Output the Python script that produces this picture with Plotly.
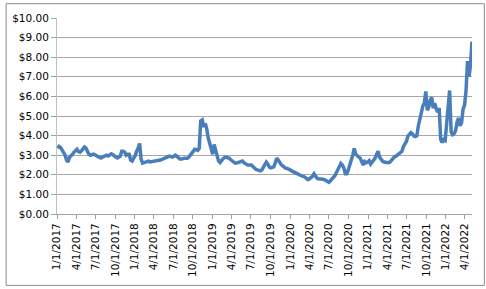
import pandas as pd
import plotly.graph_objects as go

# Weekly price readings (USD), Jan 2017 – May 2022
start_date = "2017-01-04"
prices = [
    3.35, 3.45, 3.40, 3.28, 3.15, 3.00, 2.75, 2.65, 2.90, 2.95,
    3.05, 3.15, 3.25, 3.30, 3.18, 3.15, 3.22, 3.30, 3.42, 3.36,
    3.18, 3.05, 3.00, 3.02, 3.05, 3.02, 2.96, 2.93, 2.90, 2.86,
    2.90, 2.95, 2.98, 3.00, 2.96, 3.02, 3.07, 3.02, 2.97, 2.90,
    2.86, 2.90, 2.95, 3.20, 3.20, 3.15, 3.00, 3.05, 3.05, 2.75,
    2.70, 2.85, 2.97, 3.20, 3.35, 3.60, 2.80, 2.60, 2.62, 2.65,
    2.68, 2.70, 2.66, 2.68, 2.70, 2.70, 2.70, 2.72, 2.74, 2.75,
    2.78, 2.80, 2.85, 2.90, 2.92, 2.95, 2.93, 2.90, 2.95, 3.00,
    2.95, 2.88, 2.80, 2.80, 2.80, 2.84, 2.85, 2.85, 2.90, 3.00,
    3.10, 3.18, 3.30, 3.28, 3.25, 3.35, 4.75, 4.80, 4.45, 4.62,
    4.35, 3.90, 3.55, 3.20, 3.05, 3.55, 3.25, 2.90, 2.70, 2.62,
    2.75, 2.82, 2.88, 2.90, 2.87, 2.85, 2.78, 2.70, 2.65, 2.60,
    2.60, 2.62, 2.63, 2.67, 2.70, 2.62, 2.55, 2.52, 2.50, 2.50,
    2.50, 2.42, 2.33, 2.28, 2.25, 2.22, 2.20, 2.25, 2.40, 2.55,
    2.65, 2.55, 2.40, 2.35, 2.37, 2.40, 2.60, 2.85, 2.75, 2.62,
    2.52, 2.45, 2.38, 2.33, 2.32, 2.30, 2.25, 2.20, 2.17, 2.14,
    2.10, 2.05, 2.00, 1.97, 1.95, 1.92, 1.88, 1.80, 1.75, 1.80,
    1.85, 1.92, 2.05, 1.90, 1.82, 1.80, 1.80, 1.80, 1.77, 1.75,
    1.70, 1.65, 1.62, 1.70, 1.78, 1.85, 1.95, 2.10, 2.25, 2.45,
    2.58, 2.50, 2.35, 2.05, 2.05, 2.25, 2.45, 2.75, 3.00, 3.35,
    3.05, 2.95, 2.90, 2.85, 2.70, 2.50, 2.68, 2.62, 2.65, 2.72,
    2.55, 2.65, 2.75, 2.85, 3.05, 3.20, 2.90, 2.78, 2.70, 2.65,
    2.63, 2.60, 2.62, 2.65, 2.75, 2.85, 2.92, 2.95, 3.00, 3.08,
    3.15, 3.20, 3.45, 3.62, 3.70, 3.98, 4.10, 4.15, 4.10, 3.98,
    3.95, 4.00, 4.50, 4.90, 5.25, 5.50, 5.65, 6.25, 5.30, 5.45,
    5.80, 5.95, 5.40, 5.65, 5.35, 5.20, 5.40, 3.80, 3.65, 3.80,
    3.75, 4.50, 5.50, 6.30, 4.20, 4.05, 4.10, 4.25, 4.70, 4.90,
    4.50, 4.65, 5.35, 5.55, 6.30, 7.80, 7.00, 7.60, 8.80,
]
dates = pd.date_range(start_date, periods=len(prices), freq="7D")

tick_dates = pd.date_range("2017-01-01", "2022-04-01", freq="QS")
tick_labels = [f"{d.month}/{d.day}/{d.year}" for d in tick_dates]

y_ticks = list(range(0, 11))
y_labels = [f"${v:.2f}" for v in y_ticks]

fig = go.Figure()
fig.add_trace(go.Scatter(
    x=dates, y=prices, mode="lines",
    line=dict(color="#4A7EBB", width=3.5),
    hoverinfo="skip",
))

W, H = 486, 289
L, R, T, B = 52, 14, 15, 75
pw, ph = W - L - R, H - T - B

fig.update_layout(
    width=W, height=H,
    margin=dict(l=L, r=R, t=T, b=B, pad=0),
    paper_bgcolor="white", plot_bgcolor="white",
    showlegend=False,
    font=dict(family="DejaVu Sans", size=10.5, color="#000000"),
    xaxis=dict(
        type="date",
        range=["2017-01-01", dates[-1]],
        tickvals=tick_dates, ticktext=tick_labels,
        tickangle=-90,
        showgrid=False, zeroline=False,
        showline=True, linecolor="#A0A0A0", linewidth=1,
        ticks="outside", ticklen=4, tickcolor="#A0A0A0",
    ),
    yaxis=dict(
        range=[0, 10], tickvals=y_ticks, ticktext=y_labels,
        showgrid=True, gridcolor="#A6A6A6", gridwidth=1,
        zeroline=False,
        showline=True, linecolor="#C0C0C0", linewidth=1,
        ticks="outside", ticklen=5, tickcolor="#A0A0A0",
    ),
)

# chart-area border
fig.add_shape(
    type="rect", xref="paper", yref="paper",
    x0=(0.5 - L) / pw, x1=(484.5 - L) / pw,
    y0=(H - B - 286.5) / ph, y1=(H - B - 0.5) / ph,
    line=dict(color="#8C8C8C", width=1), fillcolor="rgba(0,0,0,0)",
    layer="below",
)

fig.write_html("out.html")
